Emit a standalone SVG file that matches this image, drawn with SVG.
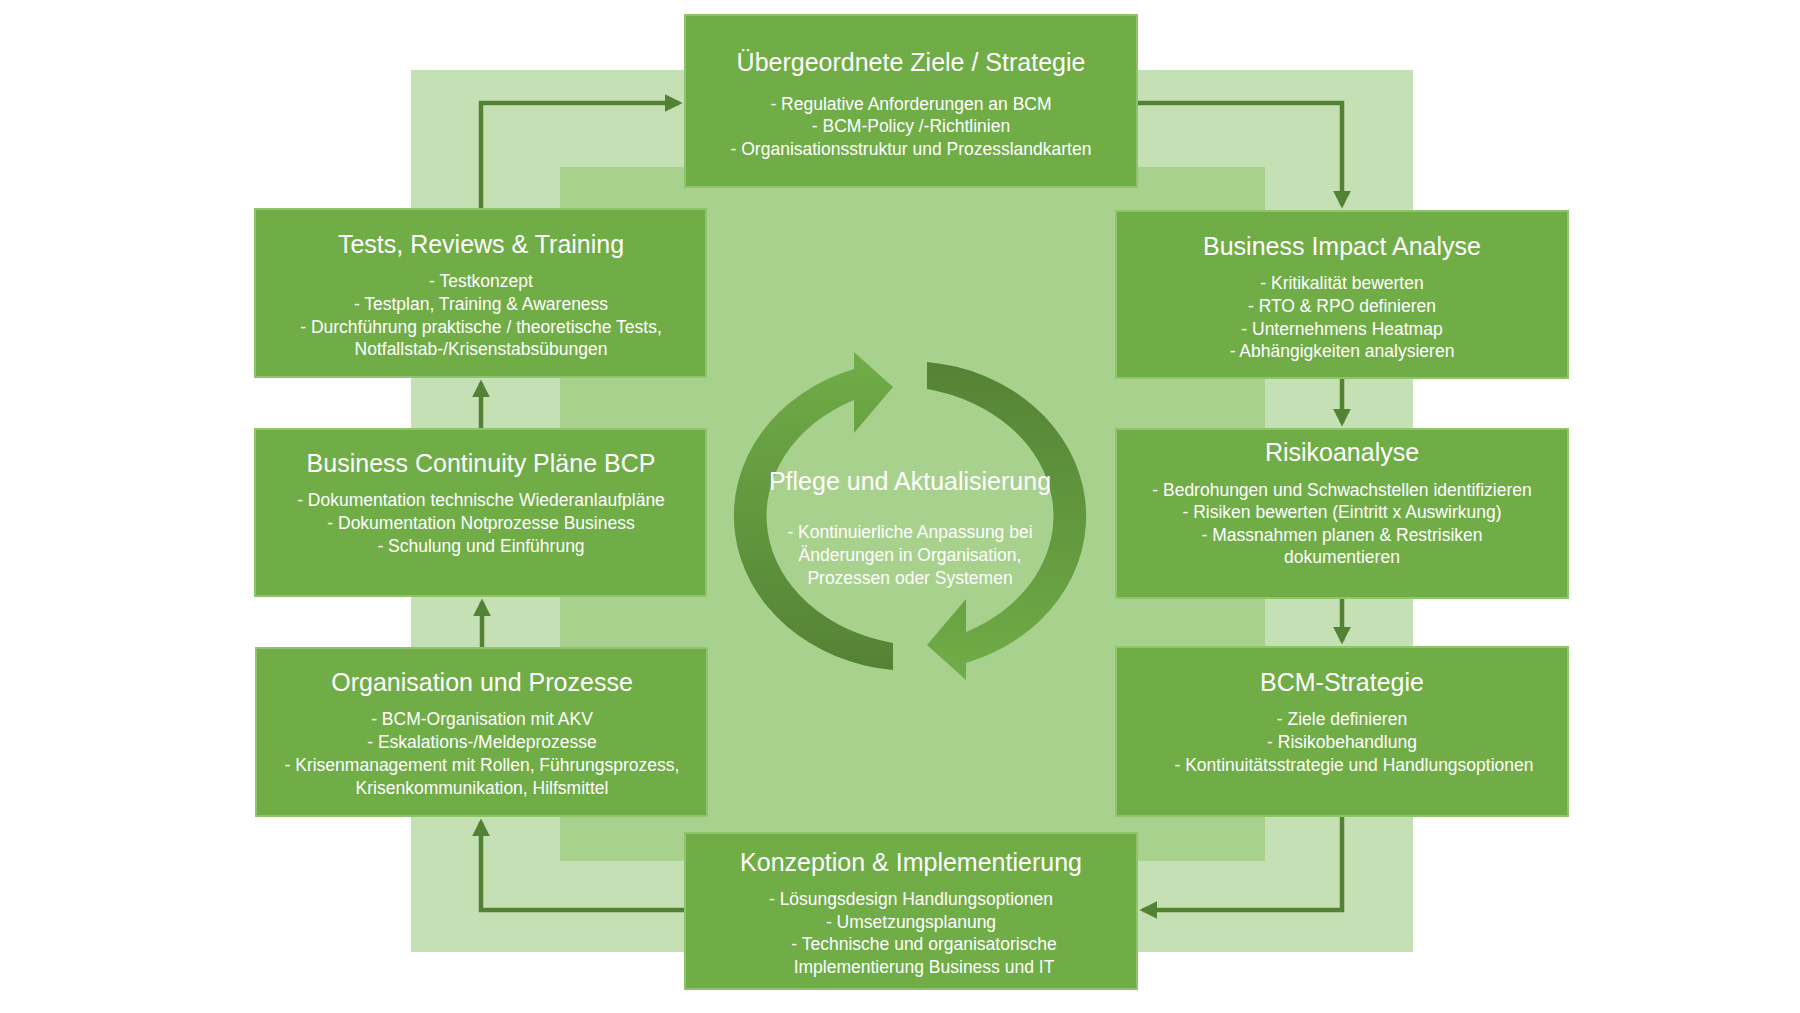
<svg xmlns="http://www.w3.org/2000/svg" width="1800" height="1013" viewBox="0 0 1800 1013">
<defs>
<style>
.box{fill:#70ad47;stroke:#8fc46c;stroke-width:2}
.t{font-family:"Liberation Sans",Arial,sans-serif;fill:#fff;text-anchor:middle}
.h{font-size:25px}
.b{font-size:17.5px}
.c{fill:none;stroke:#548235;stroke-width:4.5}
</style>
<marker id="ah" viewBox="0 0 10 10" refX="8" refY="5" markerWidth="4" markerHeight="4" orient="auto" markerUnits="strokeWidth"><path d="M0,0 L10,5 L0,10 Z" fill="#548235"/></marker>
<linearGradient id="gl" x1="0" y1="1" x2="0" y2="0"><stop offset="0" stop-color="#548235"/><stop offset="1" stop-color="#70ad47"/></linearGradient>
<linearGradient id="gr" x1="0" y1="0" x2="0" y2="1"><stop offset="0" stop-color="#548235"/><stop offset="1" stop-color="#70ad47"/></linearGradient>
</defs>
<rect width="1800" height="1013" fill="#fff"/>
<rect x="411" y="70" width="1002" height="882" fill="#c5e0b4"/>
<rect x="560" y="167" width="705" height="694" fill="#a9d18e"/>
<g id="connectors">
<path class="c" d="M481,209 V103 H679" marker-end="url(#ah)"/>
<path class="c" d="M1137,103 H1342 V205" marker-end="url(#ah)"/>
<path class="c" d="M1342,378 V423" marker-end="url(#ah)"/>
<path class="c" d="M1342,598 V641" marker-end="url(#ah)"/>
<path class="c" d="M1342,816 V910 H1143" marker-end="url(#ah)"/>
<path class="c" d="M685,910 H481 V822" marker-end="url(#ah)"/>
<path class="c" d="M482,648 V602" marker-end="url(#ah)"/>
<path class="c" d="M481,429 V383" marker-end="url(#ah)"/>
</g>
<g id="cycle">
<path d="M893 670 A177 155 0 0 1 854 369 L854 352 L893 387 L854 433 L854 400 A160 130 0 0 0 893 643 Z" fill="url(#gl)"/>
<path d="M927 362 A177 155 0 0 1 966 663 L966 680 L927 645 L966 599 L966 632 A160 130 0 0 0 927 389 Z" fill="url(#gr)"/>
<text class="t h" x="910" y="490">Pflege und Aktualisierung</text>
<text class="t b" x="910" y="538">-  Kontinuierliche Anpassung bei</text>
<text class="t b" x="910" y="561">Änderungen in Organisation,</text>
<text class="t b" x="910" y="584">Prozessen oder Systemen</text>
</g>
<g id="ziele">
<rect class="box" x="685" y="15" width="452" height="172"/>
<text class="t h" x="911" y="71">Übergeordnete Ziele / Strategie</text>
<text class="t b" x="911" y="110">- Regulative Anforderungen an BCM</text>
<text class="t b" x="911" y="132">- BCM-Policy /-Richtlinien</text>
<text class="t b" x="911" y="155">- Organisationsstruktur und Prozesslandkarten</text>
</g>
<g id="tests">
<rect class="box" x="255" y="209" width="451" height="168"/>
<text class="t h" x="481" y="253">Tests, Reviews &amp; Training</text>
<text class="t b" x="481" y="287">- Testkonzept</text>
<text class="t b" x="481" y="310">- Testplan, Training &amp; Awareness</text>
<text class="t b" x="481" y="333">- Durchführung praktische / theoretische Tests,</text>
<text class="t b" x="481" y="355">Notfallstab-/Krisenstabsübungen</text>
</g>
<g id="bia">
<rect class="box" x="1116" y="211" width="452" height="167"/>
<text class="t h" x="1342" y="255">Business Impact Analyse</text>
<text class="t b" x="1342" y="289">- Kritikalität bewerten</text>
<text class="t b" x="1342" y="312">- RTO &amp; RPO definieren</text>
<text class="t b" x="1342" y="335">- Unternehmens Heatmap</text>
<text class="t b" x="1342" y="357">- Abhängigkeiten analysieren</text>
</g>
<g id="bcp">
<rect class="box" x="255" y="429" width="451" height="167"/>
<text class="t h" x="481" y="472">Business Continuity Pläne BCP</text>
<text class="t b" x="481" y="506">- Dokumentation technische Wiederanlaufpläne</text>
<text class="t b" x="481" y="529">- Dokumentation Notprozesse Business</text>
<text class="t b" x="481" y="552">- Schulung und Einführung</text>
</g>
<g id="risiko">
<rect class="box" x="1116" y="429" width="452" height="169"/>
<text class="t h" x="1342" y="461">Risikoanalyse</text>
<text class="t b" x="1342" y="496">- Bedrohungen und Schwachstellen identifizieren</text>
<text class="t b" x="1342" y="518">- Risiken bewerten (Eintritt x Auswirkung)</text>
<text class="t b" x="1342" y="541">- Massnahmen planen &amp; Restrisiken</text>
<text class="t b" x="1342" y="563">dokumentieren</text>
</g>
<g id="org">
<rect class="box" x="256" y="648" width="451" height="168"/>
<text class="t h" x="482" y="691">Organisation und Prozesse</text>
<text class="t b" x="482" y="725">- BCM-Organisation mit AKV</text>
<text class="t b" x="482" y="748">- Eskalations-/Meldeprozesse</text>
<text class="t b" x="482" y="771">- Krisenmanagement mit Rollen, Führungsprozess,</text>
<text class="t b" x="482" y="794">Krisenkommunikation, Hilfsmittel</text>
</g>
<g id="bcm">
<rect class="box" x="1116" y="647" width="452" height="169"/>
<text class="t h" x="1342" y="691">BCM-Strategie</text>
<text class="t b" x="1342" y="725">- Ziele definieren</text>
<text class="t b" x="1342" y="748">- Risikobehandlung</text>
<text class="t b" x="1354" y="771">-    Kontinuitätsstrategie und Handlungsoptionen</text>
</g>
<g id="konzeption">
<rect class="box" x="685" y="833" width="452" height="156"/>
<text class="t h" x="911" y="871">Konzeption &amp; Implementierung</text>
<text class="t b" x="911" y="905">- Lösungsdesign Handlungsoptionen</text>
<text class="t b" x="911" y="928">-     Umsetzungsplanung</text>
<text class="t b" x="924" y="950">- Technische und organisatorische</text>
<text class="t b" x="924" y="973">Implementierung Business und IT</text>
</g>
</svg>
